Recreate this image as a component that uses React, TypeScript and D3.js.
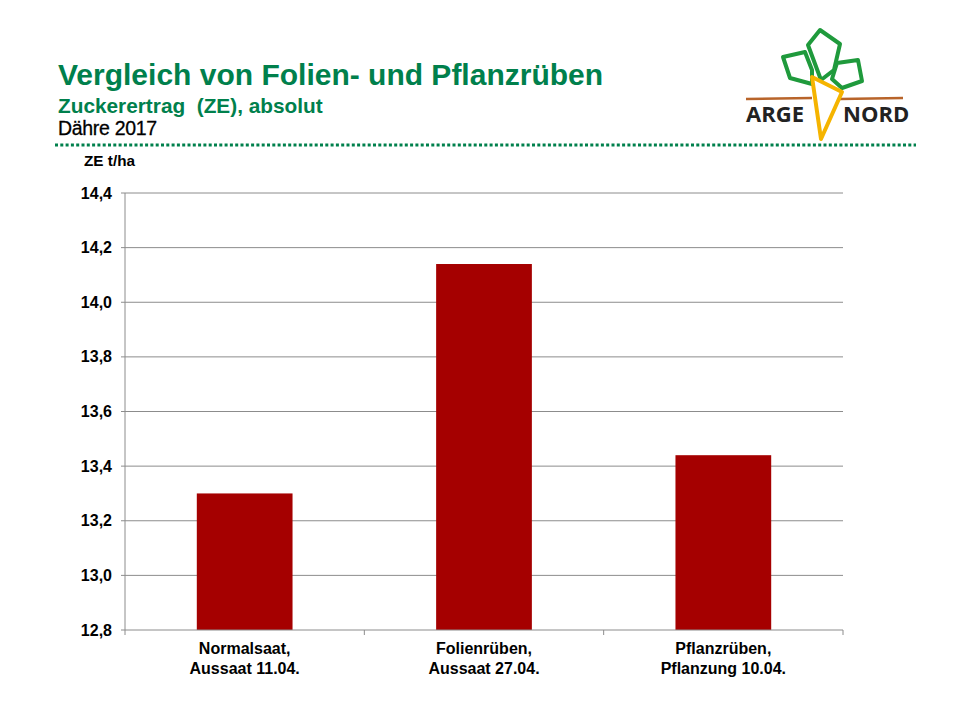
import * as d3 from "d3";
import { useRef, useEffect } from "react";

const categories = [
  ["Normalsaat,", "Aussaat 11.04."],
  ["Folienrüben,", "Aussaat 27.04."],
  ["Pflanzrüben,", "Pflanzung 10.04."],
];
const values = [13.3, 14.14, 13.44];
const yTicks = [12.8, 13.0, 13.2, 13.4, 13.6, 13.8, 14.0, 14.2, 14.4];

const GREEN = "#00804c";
const BAR = "#a50000";
const FONT = "'Liberation Sans', Arial, sans-serif";

export default function App() {
  const svgRef = useRef(null);

  useEffect(() => {
    const width = 960;
    const height = 720;
    const m = { top: 193, right: 117, bottom: 90, left: 125 };

    const svg = d3.select(svgRef.current).attr("width", width).attr("height", height);
    svg.selectAll("*").remove();
    svg.append("rect").attr("width", width).attr("height", height).attr("fill", "#fff");

    // header
    svg.append("text").attr("x", 58).attr("y", 85).attr("font-family", FONT)
      .attr("font-weight", "bold").attr("font-size", 30).attr("fill", GREEN)
      .text("Vergleich von Folien- und Pflanzrüben");
    svg.append("text").attr("x", 58).attr("y", 113).attr("font-family", FONT)
      .attr("font-weight", "bold").attr("font-size", 20.8).attr("fill", GREEN)
      .attr("xml:space", "preserve")
      .text("Zuckerertrag  (ZE), absolut");
    svg.append("text").attr("x", 58).attr("y", 135).attr("font-family", FONT)
      .attr("font-size", 19.5).attr("fill", "#000").attr("letter-spacing", -0.3)
      .attr("stroke", "#000").attr("stroke-width", 0.3)
      .text("Dähre 2017");
    svg.append("line").attr("x1", 55).attr("x2", 916).attr("y1", 145).attr("y2", 145)
      .attr("stroke", GREEN).attr("stroke-width", 3).attr("stroke-dasharray", "3,2.3");

    // logo
    const logo = svg.append("g");
    logo.append("path").attr("d", "M746,99 L812,98 M840,99 L903,98")
      .attr("stroke", "#b8642a").attr("stroke-width", 2.5).attr("fill", "none");
    const leaf = (pts: number[][]) =>
      logo.append("path").attr("d", "M" + pts.map((p) => p.join(",")).join("L") + "Z")
        .attr("fill", "none").attr("stroke", "#1f9a3c").attr("stroke-width", 4)
        .attr("stroke-linejoin", "round");
    leaf([[820, 30], [840, 44], [834, 70], [821, 80], [808, 45]]);
    leaf([[783, 57], [805, 52], [812, 70], [812, 84], [790, 78]]);
    leaf([[837, 63], [858, 60], [862, 81], [842, 88], [832, 79]]);
    logo.append("path").attr("d", "M812,77 L842,92 L821,139 Z")
      .attr("fill", "#fff").attr("stroke", "#f5b400").attr("stroke-width", 4)
      .attr("stroke-linejoin", "round");
    logo.append("text").attr("x", 746).attr("y", 122).attr("font-family", "'Open Sans', sans-serif")
      .attr("font-weight", "bold").attr("font-size", 22).attr("fill", "#222").text("ARGE");
    logo.append("text").attr("x", 843).attr("y", 122).attr("font-family", "'Open Sans', sans-serif")
      .attr("font-weight", "bold").attr("font-size", 22).attr("fill", "#222").text("NORD");

    // chart
    const x = d3.scaleBand<number>()
      .domain(d3.range(values.length))
      .range([m.left, width - m.right])
      .paddingInner(0.6).paddingOuter(0.3);
    const y = d3.scaleLinear().domain([12.8, 14.4]).range([height - m.bottom, m.top]);

    const g = svg.append("g");
    g.selectAll("line.grid").data(yTicks.slice(1)).enter().append("line")
      .attr("x1", m.left).attr("x2", width - m.right)
      .attr("y1", (d) => y(d)).attr("y2", (d) => y(d))
      .attr("stroke", "#8c8c8c").attr("stroke-width", 1);

    g.selectAll("rect.bar").data(values).enter().append("rect")
      .attr("x", (_, i) => x(i)!).attr("width", x.bandwidth())
      .attr("y", (d) => y(d)).attr("height", (d) => y(12.8) - y(d))
      .attr("fill", BAR);

    // y axis
    g.append("line").attr("x1", m.left).attr("x2", m.left)
      .attr("y1", m.top).attr("y2", height - m.bottom).attr("stroke", "#8c8c8c");
    g.selectAll("line.ytick").data(yTicks).enter().append("line")
      .attr("x1", m.left - 4).attr("x2", m.left)
      .attr("y1", (d) => y(d)).attr("y2", (d) => y(d)).attr("stroke", "#8c8c8c");
    g.selectAll("text.ylab").data(yTicks).enter().append("text")
      .attr("x", 112).attr("y", (d) => y(d)).attr("dy", "0.35em")
      .attr("text-anchor", "end").attr("font-family", FONT).attr("font-weight", "bold")
      .attr("font-size", 16).attr("fill", "#000")
      .text((d) => d.toFixed(1).replace(".", ","));
    g.append("text").attr("x", 84).attr("y", 166).attr("font-family", FONT)
      .attr("font-weight", "bold").attr("font-size", 15.3).attr("fill", "#000").text("ZE t/ha");

    // x axis
    const step = x.step();
    const x0 = m.left;
    g.append("line").attr("x1", m.left).attr("x2", width - m.right)
      .attr("y1", y(12.8)).attr("y2", y(12.8)).attr("stroke", "#8c8c8c");
    g.selectAll("line.xtick").data(d3.range(values.length + 1)).enter().append("line")
      .attr("x1", (i) => x0 + i * step).attr("x2", (i) => x0 + i * step)
      .attr("y1", y(12.8)).attr("y2", y(12.8) + 5).attr("stroke", "#8c8c8c");
    const lab = g.selectAll("text.xlab").data(categories).enter().append("text")
      .attr("text-anchor", "middle").attr("font-family", FONT).attr("font-weight", "bold")
      .attr("font-size", 16).attr("fill", "#000");
    lab.each(function (d, i) {
      const t = d3.select(this);
      d.forEach((line, j) => {
        t.append("tspan").attr("x", x(i)! + x.bandwidth() / 2).attr("y", 654 + j * 19.5).text(line);
      });
    });
  }, []);

  return (
    <div style={{ position: "absolute", left: 0, top: 0 }}>
      <svg ref={svgRef} style={{ display: "block" }} />
    </div>
  );
}
